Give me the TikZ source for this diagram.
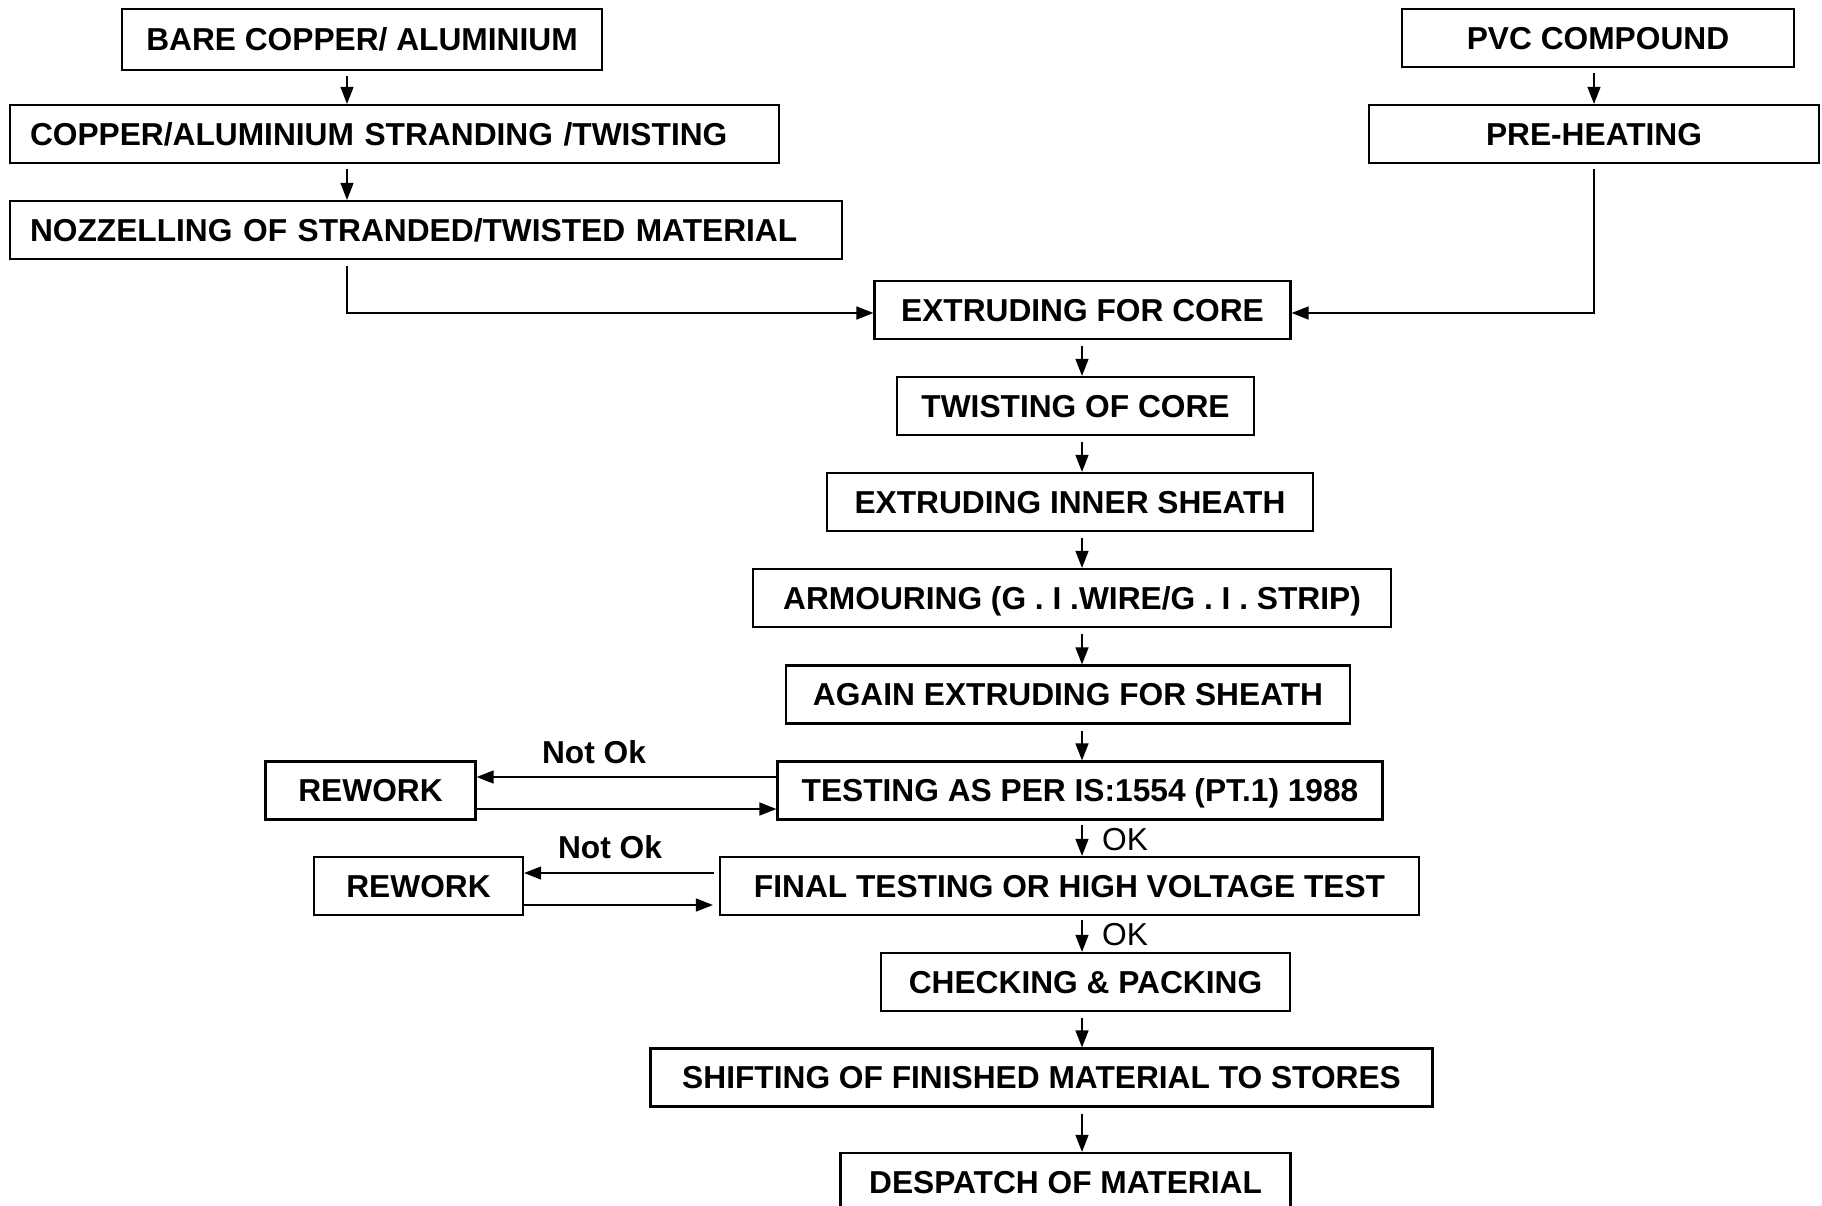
\documentclass[tikz,border=0pt]{standalone}
\usepackage{fontspec}
\setmainfont{Liberation Sans}
\usetikzlibrary{arrows.meta,calc}
\begin{document}
\begin{tikzpicture}[x=1pt,y=-1pt,
  box/.style={draw, line width=2.2pt, inner sep=0pt, minimum height=58pt,
    text height=22.7pt, text depth=0pt,
    font=\fontsize{31.7}{38}\selectfont\bfseries},
  lbox/.style={box, align=left, inner xsep=20pt},
  conn/.style={line width=1.4pt, -{Triangle[length=17pt,width=13pt]}},
  lbl/.style={inner sep=0pt, font=\fontsize{31.7}{38}\selectfont\bfseries},
  oklbl/.style={inner sep=0pt, font=\fontsize{31.7}{38}\selectfont}]
\useasboundingbox (0,0) rectangle (1822,1205);
% left column
\node[box, minimum width=480pt, minimum height=61pt] (b1) at (362,39.5) {BARE COPPER/ ALUMINIUM};
\node[lbox, text width=729pt] (b2) at (394.5,134) {COPPER/ALUMINIUM STRANDING /TWISTING};
\node[lbox, text width=792pt] (b3) at (426,230) {NOZZELLING OF STRANDED/TWISTED MATERIAL};
% right column
\node[box, minimum width=392pt] (p1) at (1598,38) {PVC COMPOUND};
\node[box, minimum width=450pt] (p2) at (1594,134) {PRE-HEATING};
% main spine
\node[box, minimum width=416pt] (c1) at (1082.5,310) {EXTRUDING FOR CORE};
\node[box, minimum width=357pt] (c2) at (1075.5,406) {TWISTING OF CORE};
\node[box, minimum width=486pt] (c3) at (1070,502) {EXTRUDING INNER SHEATH};
\node[box, minimum width=638pt] (c4) at (1072,598) {ARMOURING (G . I .WIRE/G . I . STRIP)};
\node[box, minimum width=564pt] (c5) at (1068,694.5) {AGAIN EXTRUDING FOR SHEATH};
\node[box, minimum width=605pt] (c6) at (1080,790.5) {TESTING AS PER IS:1554 (PT.1) 1988};
\node[box, minimum width=699pt] (c7) at (1069.5,886) {FINAL TESTING OR HIGH VOLTAGE TEST};
\node[box, minimum width=409pt] (c8) at (1085.5,982) {CHECKING \& PACKING};
\node[box, minimum width=782pt] (c9) at (1041.5,1077.5) {SHIFTING OF FINISHED MATERIAL TO STORES};
\node[box, minimum width=450pt] (c10) at (1065.5,1182) {DESPATCH OF MATERIAL};
% rework boxes
\node[box, minimum width=210pt] (r1) at (370.5,790.5) {REWORK};
\node[box, minimum width=209pt] (r2) at (418.5,886) {REWORK};
% labels
\node[lbl] (n1) at (594,752) {Not Ok};
\node[lbl] (n2) at (610,847) {Not Ok};
% coordinates
\coordinate (sp) at (1082,0);
\coordinate (lx) at (347,0);
\coordinate (rx) at (1594,0);
% left column arrows
\draw[conn] ($(lx|-b1.south)+(0,5)$) -- (lx|-b2.north);
\draw[conn] ($(lx|-b2.south)+(0,5)$) -- (lx|-b3.north);
\draw[conn] ($(lx|-b3.south)+(0,6)$) |- ([yshift=-3pt]c1.west);
% right column arrows
\draw[conn] ($(rx|-p1.south)+(0,5)$) -- (rx|-p2.north);
\draw[conn] ($(rx|-p2.south)+(0,5)$) |- ([yshift=-3pt]c1.east);
% spine arrows
\draw[conn] ($(sp|-c1.south)+(0,6)$) -- (sp|-c2.north);
\draw[conn] ($(sp|-c2.south)+(0,6)$) -- (sp|-c3.north);
\draw[conn] ($(sp|-c3.south)+(0,6)$) -- (sp|-c4.north);
\draw[conn] ($(sp|-c4.south)+(0,6)$) -- (sp|-c5.north);
\draw[conn] ($(sp|-c5.south)+(0,6)$) -- (sp|-c6.north);
\draw[conn] ($(sp|-c6.south)+(0,4)$) -- (sp|-c7.north);
\draw[conn] ($(sp|-c7.south)+(0,4)$) -- (sp|-c8.north);
\draw[conn] ($(sp|-c8.south)+(0,6)$) -- (sp|-c9.north);
\draw[conn] ($(sp|-c9.south)+(0,6)$) -- (sp|-c10.north);
% OK labels
\node[oklbl, anchor=west] (ok1) at (1102,840) {OK};
\node[oklbl, anchor=west] (ok2) at (1102,935) {OK};
% rework arrows
\draw[conn] ([yshift=13.5pt]c6.west) -- ([yshift=13.5pt]r1.east);
\draw[conn] ([yshift=-18.5pt]r1.east) -- ([yshift=-18.5pt]c6.west);
\draw[conn] ([xshift=-5pt,yshift=13pt]c7.west) -- ([yshift=13pt]r2.east);
\draw[conn] ([yshift=-19pt]r2.east) -- ([xshift=-6pt,yshift=-19pt]c7.west);
\end{tikzpicture}
\end{document}
